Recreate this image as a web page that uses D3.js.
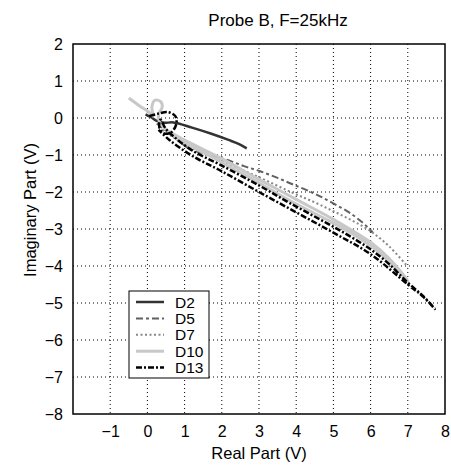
<!DOCTYPE html>
<html>
<head>
<meta charset="utf-8">
<script src="https://cdn.jsdelivr.net/npm/d3@7"></script>
<style>
  body { margin: 0; background: #fff; }
  svg text { font-family: "Liberation Sans", Arial, sans-serif; fill: #000; }
  .grid line { stroke: #000; stroke-width: 1; stroke-dasharray: 1,3; }
  .axis path, .axis line { display: none; }
  .frame { fill: none; stroke: #000; stroke-width: 1.5; }
  .legend-box { fill: #fff; stroke: #000; stroke-width: 1; }
</style>
</head>
<body>
<div id="chart"></div>
<script>
// tick values
const xTicks = [-1, 0, 1, 2, 3, 4, 5, 6, 7, 8];
const yTicks = [2, 1, 0, -1, -2, -3, -4, -5, -6, -7, -8];

// series names for the legend
const seriesNames = ['D2', 'D5', 'D7', 'D10', 'D13'];

// [real, imaginary] points
const d2Points = [[-0.05, 0.1], [0.1, 0.02], [0.25, -0.08], [0.45, -0.13], [0.7, -0.12], [1.2, -0.26],
  [1.7, -0.42], [2.2, -0.6], [2.45, -0.7], [2.67, -0.82]];
const d5Points = [[0.25, -0.15], [0.6, -0.42], [1.15, -0.84], [1.6, -0.98], [2.13, -1.13], [2.6, -1.3],
  [3.03, -1.44], [3.5, -1.62], [3.92, -1.8], [4.4, -2.0], [4.82, -2.21], [5.2, -2.42], [5.45, -2.57],
  [5.75, -2.8], [5.99, -3.02], [6.05, -3.08], [5.95, -3.05]];
const d7Points = [[0.3, -0.25], [0.7, -0.52], [1.2, -0.82], [2.0, -1.16], [3.0, -1.6], [3.9, -2.02],
  [4.5, -2.28], [5.0, -2.52], [5.5, -2.77], [6.0, -3.06], [6.5, -3.47], [7.0, -4.02]];
const d10Points = [[-0.5, 0.54], [-0.2, 0.32], [0.05, 0.15], [0.15, 0.05], [0.12, 0.3], [0.2, 0.48],
  [0.35, 0.45], [0.4, 0.3], [0.3, 0.1], [0.32, -0.1], [0.6, -0.4], [1.0, -0.66], [2.0, -1.2],
  [3.0, -1.76], [3.84, -2.24], [5.0, -2.84], [5.5, -3.12], [6.0, -3.45], [6.5, -3.88], [7.02, -4.42],
  [6.5, -3.8], [6.0, -3.36], [5.0, -2.74], [4.0, -2.2], [3.0, -1.66], [2.0, -1.1], [1.0, -0.6],
  [0.5, -0.32]];
const d13Points = [[0.05, 0.05], [0.3, 0.12], [0.55, 0.16], [0.75, 0.05], [0.78, -0.15], [0.65, -0.38],
  [0.45, -0.42], [0.32, -0.25], [0.35, -0.05], [0.5, -0.3], [0.8, -0.58], [1.24, -0.9], [1.95, -1.26],
  [3.03, -1.84], [3.83, -2.3], [4.82, -2.84], [5.45, -3.2], [6.0, -3.55], [6.5, -3.95], [7.0, -4.45],
  [7.4, -4.8], [7.73, -5.16], [7.4, -4.82], [7.0, -4.5], [6.0, -3.68], [5.0, -3.1], [4.0, -2.55],
  [3.0, -2.0], [2.0, -1.44], [1.2, -1.02], [0.6, -0.6], [0.3, -0.32]];

const seriesData = [d2Points, d5Points, d7Points, d10Points, d13Points];

// line styles per series
const styles = [
  { color: '#333333', width: 2.5, dash: null },
  { color: '#606060', width: 2, dash: '7,3,3,3' },
  { color: '#888888', width: 2, dash: '2,2.5' },
  { color: '#c8c8c8', width: 3, dash: null },
  { color: '#000000', width: 2.5, dash: '6,2,2,2' }
];

const width = 451, height = 465;
const margin = { top: 44, right: 6, bottom: 51, left: 73 };
const innerW = width - margin.left - margin.right;
const innerH = height - margin.top - margin.bottom;

const svg = d3.select('#chart').append('svg').attr('width', width).attr('height', height);
const chart = svg.append('g').attr('transform', `translate(${margin.left},${margin.top})`);

const scaleX = d3.scaleLinear().domain([-2, 8]).range([0, innerW]);
const scaleY = d3.scaleLinear().domain([-8, 2]).range([innerH, 0]);

// dotted grid
chart.append('g').classed('grid', true).selectAll('line').data(xTicks.filter(d => d < 8)).join('line')
  .attr('x1', d => scaleX(d)).attr('x2', d => scaleX(d)).attr('y1', 0).attr('y2', innerH);
chart.append('g').classed('grid', true).selectAll('line').data(yTicks.filter(d => d > -8 && d < 2)).join('line')
  .attr('y1', d => scaleY(d)).attr('y2', d => scaleY(d)).attr('x1', 0).attr('x2', innerW);

// axes (labels only)
chart.append('g').classed('axis', true).attr('transform', `translate(0,${innerH})`)
  .call(d3.axisBottom(scaleX).tickValues(xTicks).tickSize(0).tickPadding(12))
  .selectAll('text').attr('font-size', 16).attr('font-family', null);
chart.append('g').classed('axis', true)
  .call(d3.axisLeft(scaleY).tickValues(yTicks).tickSize(0).tickPadding(10))
  .selectAll('text').attr('font-size', 16).attr('font-family', null);

// curves
const line = d3.line().x(d => scaleX(d[0])).y(d => scaleY(d[1])).curve(d3.curveCatmullRom);
chart.append('g').selectAll('path').data(seriesData).join('path')
  .attr('d', line).attr('fill', 'none')
  .attr('stroke', (d, i) => styles[i].color)
  .attr('stroke-width', (d, i) => styles[i].width)
  .attr('stroke-dasharray', (d, i) => styles[i].dash)
  .attr('stroke-linejoin', 'round');

// frame
chart.append('rect').classed('frame', true).attr('width', innerW).attr('height', innerH);

// legend
const legend = svg.append('g').attr('transform', 'translate(129,291)');
legend.append('rect').classed('legend-box', true).attr('width', 80).attr('height', 87);
const entry = legend.selectAll('g.entry').data(seriesNames).join('g').classed('entry', true)
  .attr('transform', (d, i) => `translate(0,${11 + i * 16.4})`);
entry.append('line').attr('x1', 7).attr('x2', 35).attr('y1', 0).attr('y2', 0)
  .attr('stroke', (d, i) => styles[i].color)
  .attr('stroke-width', (d, i) => styles[i].width)
  .attr('stroke-dasharray', (d, i) => styles[i].dash);
entry.append('text').attr('x', 46).attr('y', 5.5).attr('font-size', 15.5).text(d => d);

// titles
svg.append('text').attr('x', 278).attr('y', 26).attr('text-anchor', 'middle').attr('font-size', 17)
  .text('Probe B, F=25kHz');
svg.append('text').attr('x', 259).attr('y', 459).attr('text-anchor', 'middle').attr('font-size', 16.5)
  .text('Real Part (V)');
svg.append('text').attr('transform', 'translate(36,210)rotate(-90)').attr('text-anchor', 'middle')
  .attr('font-size', 16.5).text('Imaginary Part (V)');
</script>
</body>
</html>
